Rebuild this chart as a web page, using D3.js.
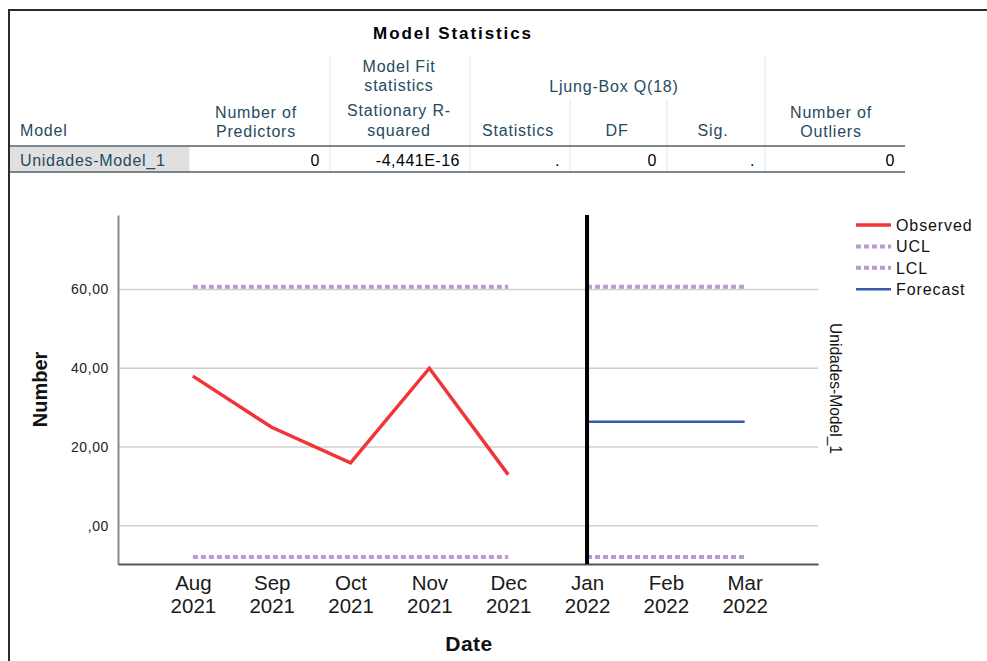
<!DOCTYPE html>
<html>
<head>
<meta charset="utf-8">
<script src="https://cdn.jsdelivr.net/npm/d3@7"></script>
<style>
  html, body { margin: 0; padding: 0; background: #fff; }
  svg { display: block; font-family: "Liberation Sans", Arial, sans-serif; }
</style>
</head>
<body>
<svg id="chart" width="987" height="661"></svg>
<script>
// Monthly units and the model's forecast band
const months = ["Aug 2021", "Sep 2021", "Oct 2021", "Nov 2021", "Dec 2021", "Jan 2022", "Feb 2022", "Mar 2022"];
const observed = [38, 25, 16, 40, 13];            // Aug–Dec 2021
const forecastMonths = ["Jan 2022", "Feb 2022", "Mar 2022"];
const forecast = [26.4, 26.4, 26.4];
const ucl = [60.7, 60.7, 60.7, 60.7, 60.7, 60.7, 60.7, 60.7];
const lcl = [-7.9, -7.9, -7.9, -7.9, -7.9, -7.9, -7.9, -7.9];
const yTicks = [0, 20, 40, 60];
const forecastStart = "Jan 2022";

// Model statistics table
const tableRow = ["Unidades-Model_1", "0", "-4,441E-16", ".", "0", ".", "0"];

const svg = d3.select("#chart");

// ---------- frame ----------
svg.append("line").attr("x1", 9).attr("x2", 9).attr("y1", 10).attr("y2", 661)
  .attr("stroke", "#2b2b2b").attr("stroke-width", 2);
svg.append("line").attr("x1", 8).attr("x2", 987).attr("y1", 10).attr("y2", 10)
  .attr("stroke", "#2b2b2b").attr("stroke-width", 2);

// ---------- table ----------
const hdrColor = "#264a60";
const colEdges = [10, 189, 330, 470, 570, 667, 765, 905];
const tbl = svg.append("g").attr("font-size", 16);

tbl.append("text").attr("x", 453).attr("y", 39).attr("text-anchor", "middle")
  .attr("font-weight", "bold").attr("font-size", 17).attr("letter-spacing", 1.9).attr("fill", "#010205")
  .text("Model Statistics");

// grey label cell
tbl.append("rect").attr("x", 10).attr("y", 147).attr("width", 179).attr("height", 25).attr("fill", "#e0e0e0");

// light vertical separators
const vsep = [
  {x: 330, y1: 55, y2: 172}, {x: 470, y1: 55, y2: 172}, {x: 765, y1: 55, y2: 172},
  {x: 570, y1: 100, y2: 172}, {x: 667, y1: 100, y2: 172}, {x: 189, y1: 147, y2: 172}
];
tbl.selectAll("line.vs").data(vsep).join("line")
  .attr("x1", d => d.x).attr("x2", d => d.x).attr("y1", d => d.y1).attr("y2", d => d.y2)
  .attr("stroke", "#e3e3e3").attr("stroke-width", 1);

// header rule and bottom rule
[146, 172].forEach(yy => tbl.append("line").attr("x1", 10).attr("x2", 905).attr("y1", yy).attr("y2", yy)
  .attr("stroke", "#4f5f6d").attr("stroke-width", 1.5));

const ht = (xx, yy, s, anchor) => tbl.append("text").attr("x", xx).attr("y", yy)
  .attr("text-anchor", anchor || "middle").attr("fill", hdrColor).attr("letter-spacing", 0.8).text(s);

ht(20, 136, "Model", "start");
ht(256, 118, "Number of");
ht(256, 137, "Predictors");
ht(399, 72, "Model Fit");
ht(399, 91, "statistics");
ht(399, 116, "Stationary R-");
ht(399, 136, "squared");
ht(614, 92, "Ljung-Box Q(18)");
ht(518, 136, "Statistics");
ht(617, 136, "DF");
ht(713, 136, "Sig.");
ht(831, 118, "Number of");
ht(831, 137, "Outliers");

tbl.append("text").attr("x", 20).attr("y", 166).attr("fill", hdrColor).attr("letter-spacing", 0.7).text(tableRow[0]);
tbl.selectAll("text.val").data(tableRow.slice(1)).join("text")
  .attr("class", "val")
  .attr("x", (d, i) => colEdges[i + 2] - 10)
  .attr("y", 166).attr("text-anchor", "end").attr("fill", "#010205").attr("letter-spacing", 0.5)
  .text(d => d);

// ---------- chart ----------
const plotLeft = 118, plotRight = 818, plotTop = 215, plotBottom = 564;
const x = d3.scaleLinear().domain([-0.95, months.length - 0.07]).range([plotLeft, plotRight]);
const y = d3.scaleLinear().domain([-9.7, 78.9]).range([plotBottom, plotTop]);
const mi = m => months.indexOf(m);

// gridlines
svg.append("g").selectAll("line").data(yTicks).join("line")
  .attr("x1", plotLeft).attr("x2", plotRight).attr("y1", d => y(d)).attr("y2", d => y(d))
  .attr("stroke", "#cfcfcf").attr("stroke-width", 1.5);

// y axis
const yAxis = svg.append("g").attr("transform", `translate(${plotLeft},0)`)
  .call(d3.axisLeft(y).tickValues(yTicks).tickSize(0).tickPadding(9)
    .tickFormat(d => d === 0 ? ",00" : d3.format(".2f")(d).replace(".", ",")));
yAxis.select(".domain").attr("stroke", "#8a8a8a").attr("stroke-width", 2);
yAxis.selectAll("text").attr("font-size", 14).attr("fill", "#222").attr("letter-spacing", 0.6)
  .attr("font-family", "Liberation Sans, Arial, sans-serif");

// x axis: month on the first line, year on the second
const xAxis = svg.append("g").attr("transform", `translate(0,${plotBottom})`)
  .call(d3.axisBottom(x).tickValues(d3.range(months.length)).tickSize(0).tickFormat(""));
xAxis.select(".domain").attr("stroke", "#555").attr("stroke-width", 2);
xAxis.selectAll(".tick").each(function(d) {
  const parts = months[d].split(" ");
  const t = d3.select(this).append("text").attr("fill", "#1a1a1a").attr("font-size", 20.5)
    .attr("font-family", "Liberation Sans, Arial, sans-serif")
    .attr("text-anchor", "middle");
  t.append("tspan").attr("x", 0).attr("y", 25.5).text(parts[0]);
  t.append("tspan").attr("x", 0).attr("y", 48.5).text(parts[1]);
});

// axis titles
svg.append("text").attr("transform", `translate(47,${(plotTop + plotBottom) / 2}) rotate(-90)`)
  .attr("text-anchor", "middle").attr("font-weight", "bold").attr("font-size", 20).attr("fill", "#111")
  .text("Number");
svg.append("text").attr("x", 469).attr("y", 651).attr("text-anchor", "middle")
  .attr("font-weight", "bold").attr("font-size", 21).attr("letter-spacing", 0.5).attr("fill", "#111")
  .text("Date");
svg.append("text").attr("transform", `translate(830,${(plotTop + plotBottom) / 2 - 1}) rotate(90)`)
  .attr("text-anchor", "middle").attr("font-size", 17).attr("fill", "#111")
  .attr("textLength", 131).attr("lengthAdjust", "spacingAndGlyphs")
  .text("Unidades-Model_1");

// confidence limits (observed period and forecast period drawn separately)
const bandColor = "#b89bd2";
const lineGen = d3.line().x(d => x(d[0])).y(d => y(d[1]));
const split = mi(forecastStart);
[[0, observed.length - 1], [split, months.length - 1]].forEach(([a, b]) => {
  [ucl, lcl].forEach(arr => {
    const pts = d3.range(a, b + 1).map(i => [i, arr[i]]);
    svg.append("path").attr("d", lineGen(pts)).attr("fill", "none")
      .attr("stroke", bandColor).attr("stroke-width", 4).attr("stroke-dasharray", "5,3");
  });
});

// observed
svg.append("path").attr("d", lineGen(observed.map((v, i) => [i, v])))
  .attr("fill", "none").attr("stroke", "#f03539").attr("stroke-width", 3.5).attr("stroke-linejoin", "miter");

// forecast
svg.append("path").attr("d", lineGen(forecast.map((v, i) => [mi(forecastMonths[i]), v])))
  .attr("fill", "none").attr("stroke", "#3b58b0").attr("stroke-width", 2.5);

// forecast origin marker
svg.append("line").attr("x1", x(split)).attr("x2", x(split)).attr("y1", plotTop).attr("y2", plotBottom)
  .attr("stroke", "#000").attr("stroke-width", 4);

// legend
const legendItems = [
  {label: "Observed", color: "#f03539", dash: null, w: 3.5},
  {label: "UCL", color: bandColor, dash: "5,3", w: 4},
  {label: "LCL", color: bandColor, dash: "5,3", w: 4},
  {label: "Forecast", color: "#3b58b0", dash: null, w: 2.5}
];
const lg = svg.append("g").attr("transform", "translate(856,225)");
lg.selectAll("g").data(legendItems).join("g")
  .attr("transform", (d, i) => `translate(0,${i * 21.4})`)
  .each(function(d) {
    const g = d3.select(this);
    g.append("line").attr("x1", 0).attr("x2", 35).attr("y1", 0).attr("y2", 0)
      .attr("stroke", d.color).attr("stroke-width", d.w).attr("stroke-dasharray", d.dash);
    g.append("text").attr("x", 40).attr("y", 6).attr("font-size", 16).attr("fill", "#111")
      .attr("letter-spacing", 0.9).text(d.label);
  });
</script>
</body>
</html>
